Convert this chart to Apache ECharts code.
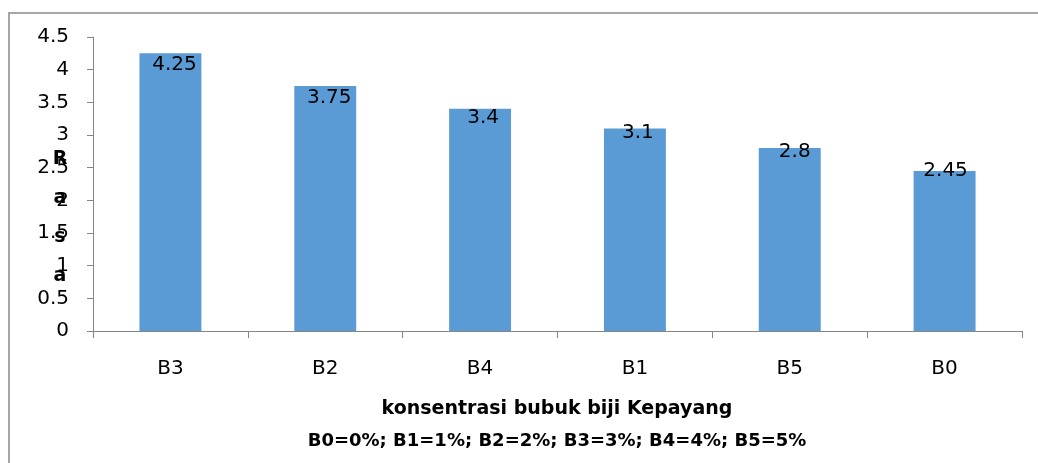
<!DOCTYPE html>
<html>
<head>
<meta charset="utf-8">
<script src="https://cdn.jsdelivr.net/npm/echarts@6/dist/echarts.min.js"></script>
<style>
  html, body { margin: 0; padding: 0; background: #fff; }
  #chart { width: 1038px; height: 463px; }
</style>
</head>
<body>
<div id="chart"></div>
<script>
// data
const categories = ['B3', 'B2', 'B4', 'B1', 'B5', 'B0'];
const rasaValues = [4.25, 3.75, 3.4, 3.1, 2.8, 2.45];

// the value labels were nudged by hand in the original, so shift them a bit
const labelShift = [[4, 1], [4, 2], [3, -1], [3, -6], [5, -6], [1, -10]];

const font = '"DejaVu Sans", sans-serif';
const axisGray = '#868686';

const chart = echarts.init(document.getElementById('chart'));

chart.setOption({
  animation: false,
  grid: { left: 93, right: 16, top: 37, bottom: 132 },
  graphic: [
    {
      type: 'rect',
      shape: { x: 9, y: 13, width: 1040, height: 460 },
      style: { fill: 'none', stroke: '#a6a6a6', lineWidth: 2 }
    },
    {
      // y axis title, one letter per line like the original
      type: 'text',
      x: 60,
      y: 140,
      style: {
        text: 'R\na\ns\na',
        font: 'bold 19px ' + font,
        lineHeight: 39,
        align: 'center',
        fill: '#000'
      }
    },
    {
      type: 'text',
      x: 557,
      y: 400,
      style: {
        text: 'konsentrasi bubuk biji Kepayang',
        font: 'bold 19px ' + font,
        align: 'center',
        fill: '#000'
      }
    },
    {
      type: 'text',
      x: 557,
      y: 432,
      style: {
        text: 'B0=0%; B1=1%; B2=2%; B3=3%; B4=4%; B5=5%',
        font: 'bold 18px ' + font,
        align: 'center',
        fill: '#000'
      }
    }
  ],
  xAxis: {
    type: 'category',
    data: categories,
    axisLine: { show: true, lineStyle: { color: axisGray, width: 1 } },
    axisTick: { show: true, length: 7, lineStyle: { color: axisGray } },
    axisLabel: { color: '#000', fontFamily: font, fontSize: 20, margin: 28 },
    splitLine: { show: false }
  },
  yAxis: {
    type: 'value',
    min: 0,
    max: 4.5,
    interval: 0.5,
    axisLine: { show: true, lineStyle: { color: axisGray, width: 1 } },
    axisTick: { show: true, length: 6, lineStyle: { color: axisGray } },
    axisLabel: { color: '#000', fontFamily: font, fontSize: 20, margin: 24 },
    splitLine: { show: false }
  },
  series: [
    {
      type: 'bar',
      data: rasaValues.map((v, i) => ({
        value: v,
        label: { offset: labelShift[i] }
      })),
      barWidth: '40%',
      itemStyle: { color: '#5b9bd5' },
      label: {
        show: true,
        position: 'insideTop',
        distance: 0,
        color: '#000',
        fontFamily: font,
        fontSize: 20
      }
    }
  ]
});
</script>
</body>
</html>
